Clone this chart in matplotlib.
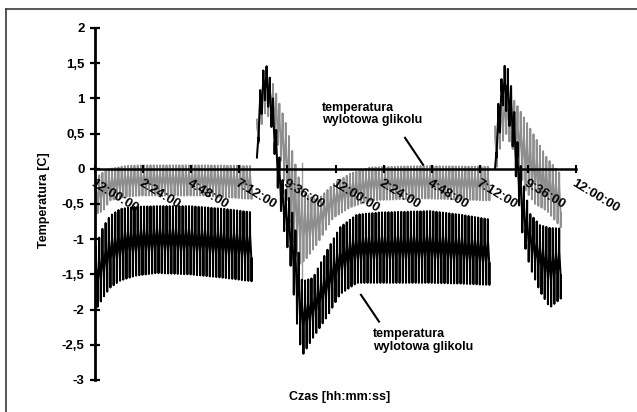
import numpy as np
import matplotlib
matplotlib.use("Agg")
import matplotlib.pyplot as plt
from matplotlib.lines import Line2D

plt.rcParams["font.family"] = ["Liberation Sans", "DejaVu Sans"]
plt.rcParams["font.weight"] = "bold"

# ---- measurement data: oscillation envelopes (time in hours, temperature in C) ----
cycle_hours = 0.16  # period of the fast temperature oscillation

# black series (dark trace)
black_t1 = [0.05, 0.40, 0.75, 1.25, 2.00, 3.09, 4.74, 6.49, 7.88]
black_hi1 = [-1.10, -0.83, -0.67, -0.57, -0.54, -0.53, -0.53, -0.57, -0.62]
black_lo1 = [-2.00, -1.83, -1.69, -1.59, -1.52, -1.48, -1.50, -1.55, -1.60]

black_t2 = [8.08, 8.23, 8.43, 8.63, 8.88, 9.13, 9.38, 9.73, 10.08, 10.33, 10.88,
            11.58, 12.23, 13.07, 14.22, 16.72, 18.21, 19.71]
black_hi2 = [0.16, 1.10, 1.45, 1.46, 1.00, 0.30, -0.20, -0.45, -1.00, -1.60, -1.55,
             -1.16, -0.83, -0.65, -0.62, -0.60, -0.65, -0.72]
black_lo2 = [0.16, 0.60, 1.00, 0.90, 0.45, -0.30, -0.80, -1.30, -2.20, -2.66, -2.40,
             -2.10, -1.78, -1.62, -1.62, -1.62, -1.63, -1.65]

black_t3 = [19.96, 20.11, 20.36, 20.56, 20.81, 21.11, 21.36, 21.71, 22.20, 22.70, 23.30]
black_hi3 = [0.00, 0.90, 1.45, 1.48, 1.10, 0.30, -0.20, -0.64, -0.80, -0.84, -0.85]
black_lo3 = [0.00, 0.30, 0.90, 0.80, 0.40, -0.40, -1.00, -1.40, -1.74, -1.97, -1.83]

# grey series (light trace)
grey_t1 = [0.05, 0.40, 0.75, 1.50, 2.25, 5.24, 7.88]
grey_hi1 = [-0.13, -0.05, 0.00, 0.04, 0.05, 0.05, 0.04]
grey_lo1 = [-0.64, -0.60, -0.45, -0.40, -0.38, -0.38, -0.43]

grey_t2 = [8.08, 8.23, 8.43, 8.83, 9.23, 9.58, 9.88, 10.23, 10.48, 11.08, 11.88,
           12.72, 13.72, 16.22, 19.71]
grey_hi2 = [0.70, 1.10, 1.30, 1.25, 0.90, 0.60, 0.20, -0.20, -0.35, -0.45, -0.22,
            -0.07, 0.02, 0.04, 0.03]
grey_lo2 = [0.20, 0.50, 0.80, 0.70, 0.20, -0.40, -1.00, -1.35, -1.30, -1.07, -0.70,
            -0.55, -0.45, -0.42, -0.45]

grey_t3 = [19.96, 20.21, 20.51, 20.96, 21.46, 21.96, 22.56, 23.30]
grey_hi3 = [0.60, 1.00, 1.15, 0.95, 0.70, 0.45, 0.15, -0.10]
grey_lo3 = [-0.10, 0.30, 0.50, 0.20, -0.30, -0.50, -0.60, -0.85]

# single spike recorded in the grey trace
grey_spike_t = [10.33, 10.33]
grey_spike_v = [0.08, -1.60]

x_ticks = [0, 2.4, 4.8, 7.2, 9.6, 12, 14.4, 16.8, 19.2, 21.6, 24]
x_labels = ["12:00:00", "2:24:00", "4:48:00", "7:12:00", "9:36:00", "12:00:00",
            "2:24:00", "4:48:00", "7:12:00", "9:36:00", "12:00:00"]
y_ticks = [-3, -2.5, -2, -1.5, -1, -0.5, 0, 0.5, 1, 1.5, 2]
y_labels = ["-3", "-2,5", "-2", "-1,5", "-1", "-0,5", "0", "0,5", "1", "1,5", "2"]


def oscillation(t_knots, hi, lo, period, band):
    """Trace that swings between the upper and lower envelope once per cycle,
    lingering around the mid value."""
    t0, t1 = t_knots[0], t_knots[-1]
    n = int(np.ceil((t1 - t0) / period))
    offs = np.array([0.0, 0.06, 0.44, 0.50, 0.56, 0.94])
    ts = (t0 + np.arange(n)[:, None] * period + offs * period).ravel()
    ts = ts[ts <= t1]
    h = np.interp(ts, t_knots, hi)
    l = np.interp(ts, t_knots, lo)
    c = (h + l) / 2
    w = band * (h - l) / 2
    choice = np.tile([0, 1, 2, 3, 2, 1], n)[: len(ts)]
    vals = np.choose(choice, [h, c + w, c - w, l])
    return ts, vals


fig = plt.figure(figsize=(6.37, 4.12), dpi=100)

# frame of the figure (left and top edges)
fig.add_artist(Line2D([6.5 / 637, 6.5 / 637], [0, 1 - 9 / 412], transform=fig.transFigure,
                      color="#3a3a3a", lw=1.2))
fig.add_artist(Line2D([6.5 / 637, 1.0], [1 - 9 / 412, 1 - 9 / 412], transform=fig.transFigure,
                      color="#3a3a3a", lw=1.2))

ax = fig.add_axes([95 / 637, 32 / 412, 481 / 637, 352 / 412])
ax.set_xlim(0, 24)
ax.set_ylim(-3, 2)

grey_c = "#8e8e8e"
for tk, hi, lo in [(grey_t1, grey_hi1, grey_lo1), (grey_t2, grey_hi2, grey_lo2),
                   (grey_t3, grey_hi3, grey_lo3)]:
    ts, vs = oscillation(tk, hi, lo, cycle_hours, 0.45)
    ax.plot(ts, vs, color=grey_c, lw=1.35, zorder=2)
ax.plot(grey_spike_t, grey_spike_v, color="#9a9a9a", lw=1.0, zorder=2)

for tk, hi, lo in [(black_t1, black_hi1, black_lo1), (black_t2, black_hi2, black_lo2),
                   (black_t3, black_hi3, black_lo3)]:
    ts, vs = oscillation(tk, hi, lo, cycle_hours, 0.34)
    ax.plot(ts, vs, color="black", lw=1.45, zorder=3)

# axes styling
for s in ["top", "right"]:
    ax.spines[s].set_visible(False)
ax.spines["bottom"].set_position(("data", 0))
ax.spines["bottom"].set_linewidth(1.8)
ax.spines["left"].set_linewidth(2.0)
ax.spines["bottom"].set_zorder(5)
ax.spines["left"].set_zorder(5)
ax.set_axisbelow(False)

ax.set_xticks(x_ticks)
ax.set_xticklabels(x_labels)
ax.set_yticks(y_ticks)
ax.set_yticklabels(y_labels)
ax.tick_params(axis="x", direction="inout", length=6, width=1.5, pad=3,
               labelsize=9.5, labelrotation=-31)
ax.tick_params(axis="y", direction="inout", length=7, width=1.6, pad=4, labelsize=9.5)
for lbl in ax.get_xticklabels():
    lbl.set_ha("left")
    lbl.set_va("top")
    lbl.set_rotation_mode("anchor")
    lbl.set_fontweight("bold")
for lbl in ax.get_yticklabels():
    lbl.set_fontweight("bold")

ax.set_ylabel("Temperatura [C]", fontsize=9, fontweight="bold")
ax.yaxis.set_label_coords(-0.094, 0.51)
fig.text(340 / 637, 1 - 397 / 412, "Czas [hh:mm:ss]", ha="center", va="center",
         fontsize=9, fontweight="bold")

# callouts
ax.text(11.33, 0.78, "temperatura\nwylotowa glikolu", ha="left", va="center",
        fontsize=9, fontweight="bold", linespacing=1.05, zorder=6)
ax.plot([15.47, 16.37], [0.44, 0.057], color="black", lw=1.5, zorder=6)
ax.text(13.87, -2.44, "temperatura\nwylotowa glikolu", ha="left", va="center",
        fontsize=9, fontweight="bold", linespacing=1.05, zorder=6)
ax.plot([13.27, 14.17], [-1.79, -2.17], color="black", lw=1.5, zorder=6)

fig.savefig("out.png", dpi=100)
